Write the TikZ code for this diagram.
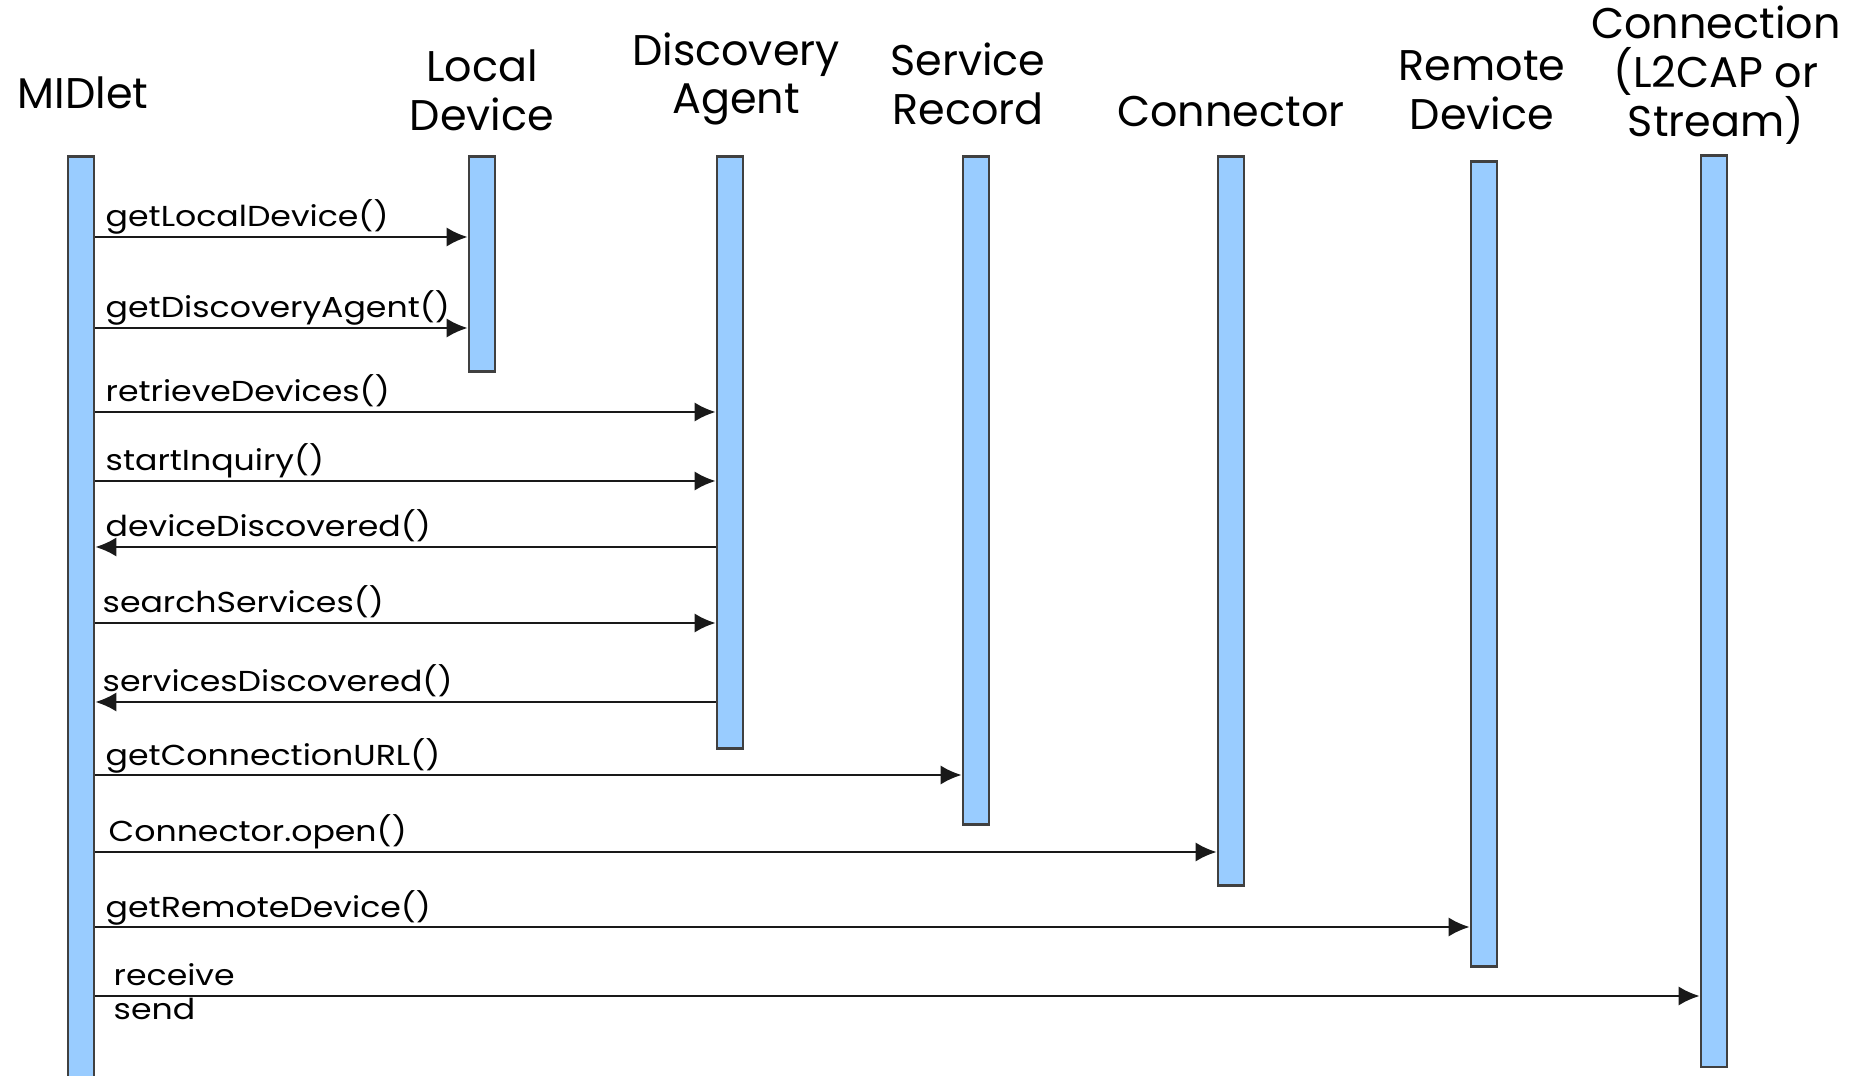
\documentclass[tikz,border=0pt]{standalone}
\usepackage{fontspec}
\setmainfont{Poppins}
\newfontfamily\msgfont[FakeStretch=1.15]{Poppins}
\usetikzlibrary{positioning}
\usetikzlibrary{calc}
\usetikzlibrary{arrows.meta}

\definecolor{barblue}{HTML}{99CCFF}

\tikzset{
  lifeline/.style={draw=black!75, line width=0.75pt, fill=barblue, minimum width=0.26cm, inner sep=0pt, anchor=north},
  msg/.style={-{Latex[length=6pt,width=5.5pt]}, line width=0.75pt, draw=black!90},
  msglabel/.style={font=\msgfont\fontsize{8.2}{9}\selectfont, anchor=base west, inner sep=0pt},
  actor/.style={font=\fontsize{12.2}{13.9}\selectfont, align=center, inner sep=0pt}
}

\begin{document}
\begin{tikzpicture}[x=0.01cm,y=-0.01cm]
\useasboundingbox (0,0) rectangle (1865,1076);

% heads
\node[actor](hMidlet) at (83,93){MIDlet};
\node[actor](hLocal) at (482,90){Local\\Device};
\node[actor](hAgent) at (736,79){Discovery\\Agent};
\node[actor](hRecord) at (968,84){Service\\Record};
\node[actor](hConnector) at (1231,112){Connector};
\node[actor](hRemote) at (1482,90){Remote\\Device};
\node[actor](hConn) at (1716,75){Connection\\(L2CAP or\\Stream)};

% bars
\node[lifeline, minimum height=9.4cm](midlet) at (81,155){};
\node[lifeline, minimum height=2.15cm](local) at (482,155){};
\node[lifeline, minimum height=5.92cm](agent) at (730,155){};
\node[lifeline, minimum height=6.68cm](record) at (976,155){};
\node[lifeline, minimum height=7.29cm](connector) at (1231,155){};
\node[lifeline, minimum height=8.05cm](remote) at (1484,160){};
\node[lifeline, minimum height=9.11cm](conn) at (1714,154){};

% labels
\node[msglabel](lLocal) at (105,227){getLocalDevice()};
\node[msglabel](lAgent) at (105,318){getDiscoveryAgent()};
\node[msglabel](lRetrieve) at (105,402){retrieveDevices()};
\node[msglabel](lInquiry) at (105,471){startInquiry()};
\node[msglabel](lDevice) at (105,537){deviceDiscovered()};
\node[msglabel](lSearch) at (102,613){searchServices()};
\node[msglabel](lServices) at (102,692){servicesDiscovered()};
\node[msglabel](lURL) at (105,765){getConnectionURL()};
\node[msglabel](lOpen) at (108,842){Connector.open()};
\node[msglabel](lRemote) at (105,917){getRemoteDevice()};
\node[msglabel](lReceive) at (113,985){receive};
\node[msglabel](lSend) at (113,1020){send};

\path
(midlet.east |- 0,237) edge[msg] (local.west |- 0,237)
(midlet.east |- 0,328) edge[msg] (local.west |- 0,328)
(midlet.east |- 0,412) edge[msg] (agent.west |- 0,412)
(midlet.east |- 0,481) edge[msg] (agent.west |- 0,481)
(agent.west |- 0,547) edge[msg] (midlet.east |- 0,547)
(midlet.east |- 0,623) edge[msg] (agent.west |- 0,623)
(agent.west |- 0,702) edge[msg] (midlet.east |- 0,702)
(midlet.east |- 0,775) edge[msg] (record.west |- 0,775)
(midlet.east |- 0,852) edge[msg] (connector.west |- 0,852)
(midlet.east |- 0,927) edge[msg] (remote.west |- 0,927)
(midlet.east |- 0,996) edge[msg] (conn.west |- 0,996);
\end{tikzpicture}
\end{document}
